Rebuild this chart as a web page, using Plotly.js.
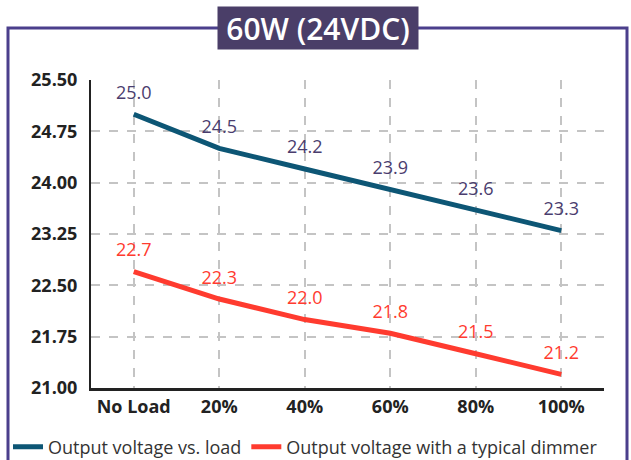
<!DOCTYPE html>
<html>
<head>
<meta charset="utf-8">
<script src="https://cdn.plot.ly/plotly-3.0.1.min.js"></script>
<style>html,body{margin:0;padding:0;background:#fff;}#chart{width:631px;height:460px;}</style>
</head>
<body>
<div id="chart"></div>
<script>
var categories = ["No Load", "20%", "40%", "60%", "80%", "100%"];
var loadVoltage = [25.0, 24.5, 24.2, 23.9, 23.6, 23.3];
var dimmerVoltage = [22.7, 22.3, 22.0, 21.8, 21.5, 21.2];
var seriesNames = ["Output voltage vs. load", "Output voltage with a typical dimmer"];
var yTicks = [21.00, 21.75, 22.50, 23.25, 24.00, 24.75, 25.50];
var chartTitle = "60W (24VDC)";

var W = 631, H = 460, ml = 91, mr = 27, mt = 80, mb = 72;
var pw = W - ml - mr, ph = H - mt - mb;
function px(x) { return (x - ml) / pw; }
function py(y) { return (H - mb - y) / ph; }

var hiddenMarker = {size: 16, color: "rgba(0,0,0,0)", line: {width: 0, color: "rgba(0,0,0,0)"}};

var traces = [
  {
    x: categories, y: loadVoltage, name: seriesNames[0],
    type: "scatter", mode: "lines+markers+text",
    line: {color: "#0d5675", width: 5},
    marker: hiddenMarker,
    text: loadVoltage.map(function(v){ return v.toFixed(1); }),
    textposition: "top center",
    textfont: {family: "Open Sans", size: 18, color: "#4a3d6e"},
    cliponaxis: false, hoverinfo: "skip"
  },
  {
    x: categories, y: dimmerVoltage, name: seriesNames[1],
    type: "scatter", mode: "lines+markers+text",
    line: {color: "#ff3b2f", width: 5},
    marker: hiddenMarker,
    text: dimmerVoltage.map(function(v){ return v.toFixed(1); }),
    textposition: "top center",
    textfont: {family: "Open Sans", size: 18, color: "#ff3b2f"},
    cliponaxis: false, hoverinfo: "skip"
  }
];

var layout = {
  width: W, height: H,
  margin: {l: ml, r: mr, t: mt, b: mb, pad: 0, autoexpand: false},
  paper_bgcolor: "#fff", plot_bgcolor: "#fff",
  font: {family: "Open Sans", color: "#222"},
  showlegend: true,
  legend: {
    orientation: "h", x: px(8), xanchor: "left", y: py(447), yanchor: "middle",
    font: {family: "Open Sans", size: 18, color: "#333"},
    itemwidth: 30, traceorder: "normal", bgcolor: "rgba(0,0,0,0)"
  },
  xaxis: {
    type: "category", range: [-0.5, 5.5],
    showline: true, linecolor: "#222", linewidth: 3,
    showgrid: true, gridcolor: "#c4c4c4", gridwidth: 2, griddash: "dash",
    ticks: "", tickfont: {family: "Open Sans", size: 18, color: "#222", weight: 700},
    zeroline: false, fixedrange: true
  },
  yaxis: {
    range: [21, 25.5], tickmode: "array", tickvals: yTicks,
    ticktext: yTicks.map(function(v){ return v.toFixed(2); }),
    showline: true, linecolor: "#222", linewidth: 2,
    showgrid: true, gridcolor: "#c4c4c4", gridwidth: 2, griddash: "dash",
    ticks: "", ticklabelstandoff: 8,
    tickfont: {family: "Open Sans", size: 18, color: "#222", weight: 700},
    zeroline: false, fixedrange: true
  },
  shapes: [
    {type: "rect", xref: "paper", yref: "paper",
     x0: px(8), x1: px(627), y0: py(480), y1: py(28),
     line: {color: "#4b3f8c", width: 3}, fillcolor: "rgba(0,0,0,0)", layer: "below"}
  ],
  annotations: [
    {xref: "paper", yref: "paper", x: px(318), y: py(28), xanchor: "center", yanchor: "middle",
     text: chartTitle, showarrow: false, width: 200, height: 42, bgcolor: "#4a3e68",
     borderpad: 0, font: {family: "Open Sans", size: 30, color: "#fff", weight: 600}}
  ]
};

Plotly.newPlot("chart", traces, layout, {displayModeBar: false, staticPlot: true});
</script>
</body>
</html>
